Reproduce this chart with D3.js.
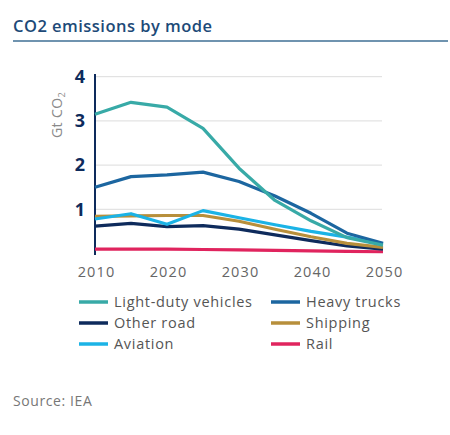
<!DOCTYPE html>
<html><head><meta charset="utf-8">
<script src="https://cdn.jsdelivr.net/npm/d3@7"></script>
<style>body{margin:0;background:#fff}svg{display:block}text{font-family:"Open Sans",sans-serif}</style>
</head><body>
<svg id="c" width="450" height="435"></svg>
<script>
const years = [2010, 2015, 2020, 2025, 2030, 2035, 2040, 2045, 2050];
const lightDuty = [3.15, 3.42, 3.31, 2.83, 1.93, 1.20, 0.74, 0.36, 0.19];
const heavyTrucks = [1.50, 1.74, 1.78, 1.84, 1.63, 1.30, 0.91, 0.46, 0.23];
const otherRoad = [0.62, 0.68, 0.61, 0.63, 0.55, 0.42, 0.29, 0.17, 0.10];
const shipping = [0.84, 0.85, 0.86, 0.86, 0.73, 0.55, 0.38, 0.23, 0.14];
const aviation = [0.78, 0.90, 0.66, 0.97, 0.81, 0.65, 0.50, 0.37, 0.22];
const rail = [0.10, 0.10, 0.10, 0.09, 0.08, 0.07, 0.06, 0.05, 0.04];
const seriesNames = ["Light-duty vehicles", "Heavy trucks", "Other road", "Shipping", "Aviation", "Rail"];
const seriesColors = ["#38aaa7", "#1c66a0", "#0e2b5c", "#b78f3b", "#1bb3e6", "#e0245e"];
const yTicks = [1, 2, 3, 4];
const xTicks = [2010, 2020, 2030, 2040, 2050];

const series = [lightDuty, heavyTrucks, otherRoad, shipping, aviation, rail];
const svg = d3.select("#c");

svg.append("text").attr("x", 13).attr("y", 32).attr("font-size", 16.5).attr("font-weight", 600)
  .attr("fill", "#1d4a78").attr("textLength", 199).text("CO2 emissions by mode");
svg.append("line").attr("x1", 13).attr("x2", 448).attr("y1", 41).attr("y2", 41)
  .attr("stroke", "#3f6f95").attr("stroke-width", 1.5);

const x = d3.scaleLinear().domain([2010, 2050]).range([95, 383]);
const y = d3.scaleLinear().domain([0, 4]).range([253.5, 76.7]);

// grid
svg.append("g").selectAll("line").data(yTicks).join("line")
  .attr("x1", 95).attr("x2", 382).attr("y1", d => y(d)).attr("y2", d => y(d))
  .attr("stroke", "#dcdcdc").attr("stroke-width", 1);

// y axis
const yAxis = d3.axisLeft(y).tickValues(yTicks).tickSize(0).tickPadding(10).tickFormat(d3.format("d"));
const gy = svg.append("g").attr("transform", "translate(95,0)").call(yAxis);
gy.select(".domain").remove();
gy.selectAll("text").attr("font-size", 18).attr("font-weight", 700).attr("fill", "#0e2b5c")
  .attr("font-family", "'Open Sans', sans-serif");
svg.append("line").attr("x1", 95).attr("x2", 95).attr("y1", 74).attr("y2", 255)
  .attr("stroke", "#0e2b5c").attr("stroke-width", 2);

// x axis
const xAxis = d3.axisBottom(x).tickValues(xTicks).tickSize(0).tickPadding(0).tickFormat(d3.format("d"));
const gx = svg.append("g").attr("transform", "translate(1,265)").call(xAxis);
gx.select(".domain").remove();
gx.selectAll("text").attr("font-size", 14.5).attr("fill", "#666").attr("dy", "0.85em")
  .attr("font-family", "'Open Sans', sans-serif").attr("letter-spacing", 1.1);

// y title
svg.append("text").attr("transform", "translate(62,115) rotate(-90)").attr("text-anchor", "middle")
  .attr("font-size", 14).attr("fill", "#8a8a8a").attr("letter-spacing", 0.4)
  .html('Gt CO<tspan font-size="9" dy="3">2</tspan>');

// lines
const line = d3.line().x((d, i) => x(years[i])).y(d => y(d));
const order = [5, 2, 3, 4, 1, 0];
svg.append("g").selectAll("path").data(order).join("path")
  .attr("d", i => line(series[i])).attr("fill", "none")
  .attr("stroke", i => seriesColors[i]).attr("stroke-width", 3.2)
  .attr("stroke-linejoin", "round");

// legend
const leg = svg.append("g");
seriesNames.forEach((n, i) => {
  const col = i % 2, row = Math.floor(i / 2);
  const lx = col === 0 ? 79 : 271, ly = 302 + row * 21;
  leg.append("line").attr("x1", lx).attr("x2", lx + 29).attr("y1", ly).attr("y2", ly)
    .attr("stroke", seriesColors[i]).attr("stroke-width", 3.5);
  leg.append("text").attr("x", lx + 35).attr("y", ly).attr("dy", "0.35em")
    .attr("font-size", 14.5).attr("fill", "#555").attr("letter-spacing", 0.7).text(n);
});

svg.append("text").attr("x", 13).attr("y", 406).attr("font-size", 14).attr("fill", "#777")
  .attr("letter-spacing", 0.6).text("Source: IEA");
</script>
</body></html>
